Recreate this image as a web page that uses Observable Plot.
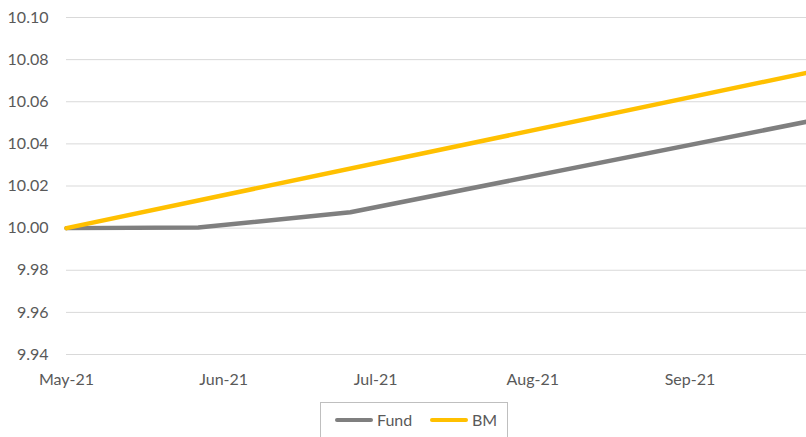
<!DOCTYPE html>
<html>
<head>
<meta charset="utf-8">
<script src="https://cdn.jsdelivr.net/npm/d3@7"></script>
<script src="https://cdn.jsdelivr.net/npm/@observablehq/plot@0.6"></script>
<style>
  html, body { margin: 0; padding: 0; background: #fff; }
  body { width: 806px; height: 437px; overflow: hidden; font-family: Lato, "Open Sans", sans-serif; }
  #legend { position: absolute; left: 320px; top: 402px; width: 188px; height: 40px; border: 1px solid #bfbfbf; box-sizing: border-box; font-size: 16px; color: #595959; }
  .item { position: absolute; top: 7px; display: flex; align-items: center; }
  .sw { display: inline-block; width: 38px; height: 4px; border-radius: 2px; margin-right: 4px; }
</style>
</head>
<body>
<div id="chart"></div>
<div id="legend">
  <div class="item" style="left:14px"><span class="sw" style="background:#7f7f7f"></span>Fund</div>
  <div class="item" style="left:109px"><span class="sw" style="background:#ffc000"></span>BM</div>
</div>
<script>
const fundDates = ["2021-05-01", "2021-05-27", "2021-06-26", "2021-09-24"];
const fundValues = [10.000, 10.0003, 10.0075, 10.0505];
const bmDates = ["2021-05-01", "2021-09-24"];
const bmValues = [10.000, 10.0737];
const yTicks = [9.94, 9.96, 9.98, 10.00, 10.02, 10.04, 10.06, 10.08, 10.10];
const xTickDates = ["2021-05-01", "2021-06-01", "2021-07-01", "2021-08-01", "2021-09-01"];

const fund = fundDates.map((d, i) => ({date: new Date(d), value: fundValues[i]}));
const bm = bmDates.map((d, i) => ({date: new Date(d), value: bmValues[i]}));

const chart = Plot.plot({
  width: 806,
  height: 395,
  marginLeft: 66,
  marginRight: 0,
  marginTop: 17,
  marginBottom: 41,
  style: {fontFamily: "Lato, 'Open Sans', sans-serif", fontSize: "16px", color: "#595959", background: "#fff"},
  x: {type: "utc", domain: [new Date("2021-05-01"), new Date("2021-09-24")]},
  y: {domain: [9.94, 10.10]},
  marks: [
    Plot.ruleY(yTicks, {stroke: "#d9d9d9", strokeWidth: 1}),
    Plot.axisY({ticks: yTicks, tickSize: 0, tickPadding: 18, tickFormat: d3.format(".2f"), label: null, fill: "#595959"}),
    Plot.axisX({ticks: xTickDates.map(d => new Date(d)), tickSize: 0, tickPadding: 19, tickFormat: d3.utcFormat("%b-%y"), label: null, fill: "#595959"}),
    Plot.line(fund, {x: "date", y: "value", stroke: "#7f7f7f", strokeWidth: 4.5, strokeLinejoin: "round"}),
    Plot.line(bm, {x: "date", y: "value", stroke: "#ffc000", strokeWidth: 4.5, strokeLinejoin: "round"})
  ]
});
document.getElementById("chart").appendChild(chart);
</script>
</body>
</html>
